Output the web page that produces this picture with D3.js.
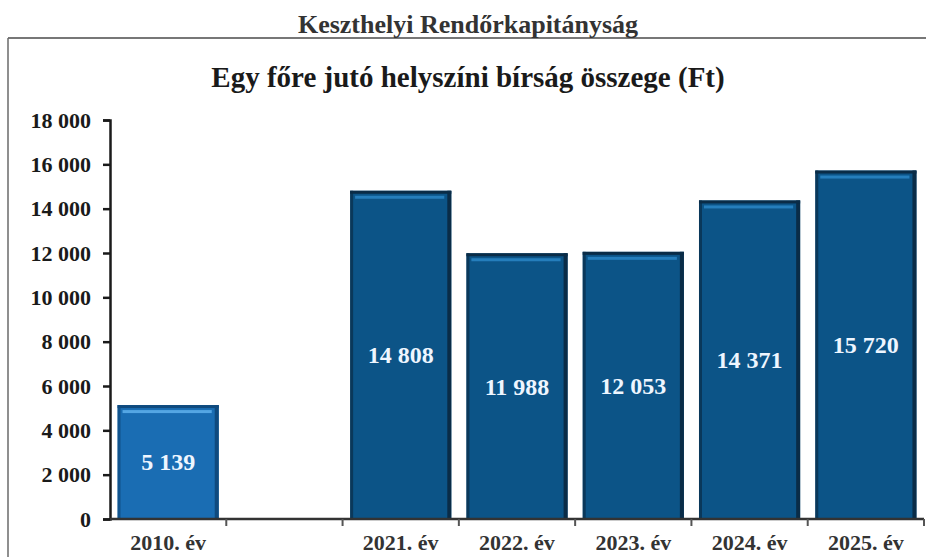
<!DOCTYPE html>
<html>
<head>
<meta charset="utf-8">
<script src="https://cdn.jsdelivr.net/npm/d3@7"></script>
<style>
  html, body { margin: 0; padding: 0; background: #fff; }
  svg { display: block; }
  text { font-family: "Liberation Serif", "DejaVu Serif", serif; font-weight: bold; }
</style>
</head>
<body>
<svg id="chart" width="926" height="557"></svg>
<script>
// Categories (an empty slot separates 2010 from the recent years)
const categories = ["2010. év", "", "2021. év", "2022. év", "2023. év", "2024. év", "2025. év"];
// Fine amount per person (Ft); null for the empty slot
const values = [5139, null, 14808, 11988, 12053, 14371, 15720];
const yTicks = [0, 2000, 4000, 6000, 8000, 10000, 12000, 14000, 16000, 18000];
const headerTitle = "Keszthelyi Rendőrkapitányság";
const chartTitle = "Egy főre jutó helyszíni bírság összege (Ft)";

const fmt = v => d3.format(",")(v).replace(/,/g, " ");

const svg = d3.select("#chart");
const W = 926, H = 557;
const plot = { left: 110, right: 924, top: 120, bottom: 519 };

// Frame: top rule and left rule
svg.append("line").attr("x1", 8).attr("x2", W).attr("y1", 38).attr("y2", 38)
  .attr("stroke", "#4a4a4a").attr("stroke-width", 1.5);
svg.append("line").attr("x1", 8).attr("x2", 8).attr("y1", 38).attr("y2", H)
  .attr("stroke", "#6a6a6a").attr("stroke-width", 1.5);

svg.append("text").attr("x", 468).attr("y", 33).attr("text-anchor", "middle")
  .attr("font-size", 26).attr("fill", "#333").text(headerTitle);
svg.append("text").attr("x", 468).attr("y", 87).attr("text-anchor", "middle")
  .attr("font-size", 29).attr("fill", "#1a1a1a").text(chartTitle);

const x = d3.scaleBand().domain(categories.map((c, i) => i))
  .range([plot.left, plot.right]).paddingInner(0.13).paddingOuter(0.065);
const y = d3.scaleLinear().domain([0, 18000]).range([plot.bottom, plot.top]);

// Y axis
const yAxis = svg.append("g").attr("transform", `translate(${plot.left},0)`)
  .call(d3.axisLeft(y).tickValues(yTicks).tickFormat(fmt).tickSize(7).tickPadding(12));
yAxis.select(".domain").attr("stroke", "#1a1a1a").attr("stroke-width", 2.5);
yAxis.selectAll(".tick line").attr("stroke", "#1a1a1a").attr("stroke-width", 2.5);
yAxis.selectAll(".tick text").attr("font-size", 22).attr("fill", "#1a1a1a")
  .attr("font-family", "Liberation Serif, serif").attr("font-weight", "bold");

// Bars
const data = categories.map((c, i) => ({ i, c, v: values[i] })).filter(d => d.v != null);
const bars = svg.append("g");
const bw = x.bandwidth();
data.forEach(d => {
  const g = bars.append("g");
  const x0 = x(d.i), y0 = y(d.v), h = y(0) - y(d.v);
  const first = d.i === 0;
  const body = first ? "#1a6db3" : "#0c5487";
  const hi = first ? "#5fb0ec" : "#2a86c6";
  const edge = first ? "#0f4a7e" : "#0a2c47";
  g.append("rect").attr("x", x0).attr("y", y0).attr("width", bw).attr("height", h).attr("fill", body);
  // right and left shading
  g.append("rect").attr("x", x0 + bw - 4).attr("y", y0).attr("width", 4).attr("height", h).attr("fill", edge);
  g.append("rect").attr("x", x0).attr("y", y0).attr("width", 3).attr("height", h).attr("fill", edge).attr("opacity", 0.7);
  // top edge and highlight
  g.append("rect").attr("x", x0).attr("y", y0).attr("width", bw).attr("height", 3).attr("fill", edge);
  g.append("rect").attr("x", x0 + 5).attr("y", y0 + 5).attr("width", bw - 12).attr("height", 3).attr("fill", hi).attr("opacity", 0.85);
  g.append("text").attr("x", x0 + bw / 2).attr("y", y0 + h / 2)
    .attr("dy", "0.35em").attr("text-anchor", "middle")
    .attr("font-size", 24).attr("fill", "#eef6ff").text(fmt(d.v));
});

// X axis: baseline, boundary ticks and centred labels
const step = x.step();
const bounds = d3.range(categories.length + 1).map(k => plot.left + k * step);
svg.append("line").attr("x1", plot.left).attr("x2", plot.right).attr("y1", y(0)).attr("y2", y(0))
  .attr("stroke", "#333").attr("stroke-width", 2.5);
svg.append("g").selectAll("line").data(bounds.slice(1)).join("line")
  .attr("x1", d => d).attr("x2", d => d).attr("y1", y(0)).attr("y2", y(0) + 7)
  .attr("stroke", "#555").attr("stroke-width", 2);
svg.append("g").selectAll("text").data(categories.map((c, i) => ({ c, i })).filter(d => d.c))
  .join("text")
  .attr("x", d => x(d.i) + bw / 2).attr("y", 550).attr("text-anchor", "middle")
  .attr("font-size", 22).attr("fill", "#333").text(d => d.c);
</script>
</body>
</html>
